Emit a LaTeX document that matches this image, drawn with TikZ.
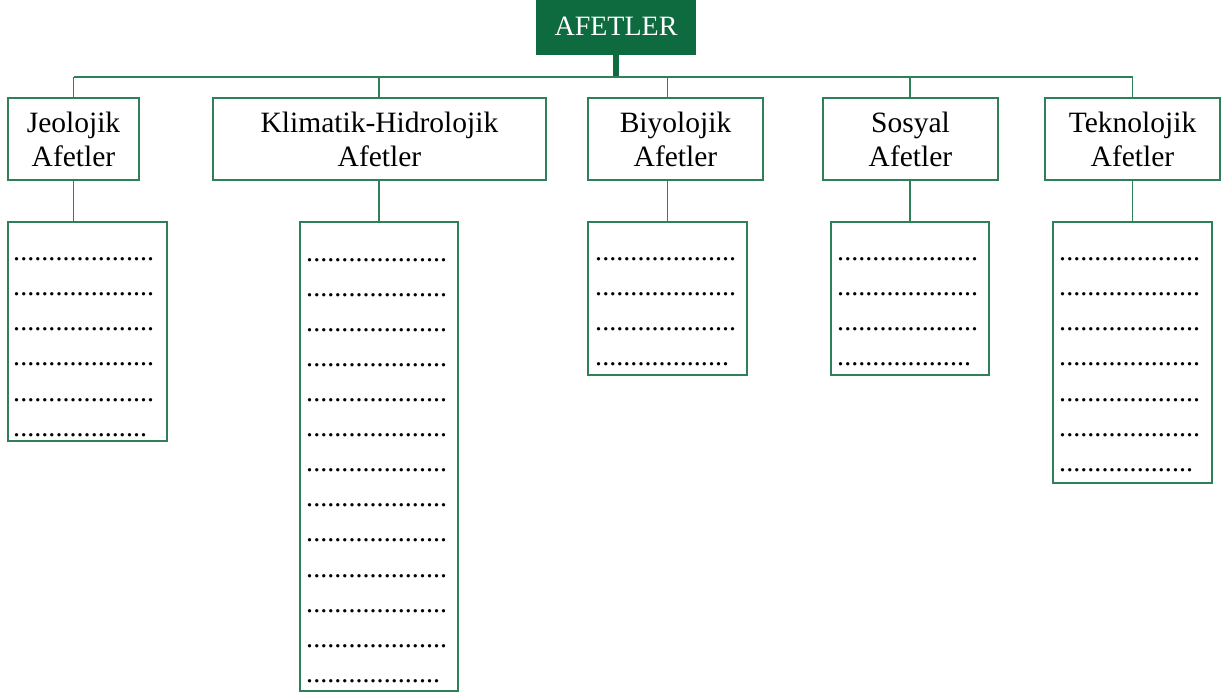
\documentclass[tikz,border=0pt]{standalone}
\usepackage{fontspec}
\setmainfont{Liberation Serif}
\definecolor{afgreen}{HTML}{0E6B3F}
\definecolor{lineg}{HTML}{2E8058}
\newcommand{\dotline}[1]{\hbox to #1\dimexpr 7.05pt\relax{\leaders\hbox to 7.05pt{\hss.\hss}\hfill}}
\begin{document}
\begin{tikzpicture}[x=1pt,y=-1pt,
  conn/.style={draw=lineg,line width=1.4pt},
  hdr/.style={draw=lineg,line width=1.4pt,anchor=north west,inner sep=0pt,outer sep=0pt,
    align=center,font=\fontsize{29.5}{34}\selectfont},
  lst/.style={draw=lineg,line width=1.4pt,anchor=north west,inner sep=0pt,outer sep=0pt},
  dotrow/.style={anchor=base west,inner sep=0pt,font=\fontsize{28}{33}\selectfont}]
\useasboundingbox (0,0) rectangle (1223,692);
% root
\node[fill=afgreen,anchor=north west,minimum width=160,minimum height=57,inner sep=0pt,outer sep=0pt,
  text=white,font=\fontsize{28}{33}\selectfont] (root) at (536,-2) {AFETLER};
\coordinate (bus) at (616,77);
% headers
\node[hdr,minimum width=131,minimum height=82] (jeo) at (8,98) {Jeolojik\\Afetler};
\node[hdr,minimum width=333,minimum height=82] (kli) at (213,98) {Klimatik-Hidrolojik\\Afetler};
\node[hdr,minimum width=175,minimum height=82] (biy) at (588,98) {Biyolojik\\Afetler};
\node[hdr,minimum width=175,minimum height=82] (sos) at (823,98) {Sosyal\\Afetler};
\node[hdr,minimum width=175,minimum height=82] (tek) at (1045,98) {Teknolojik\\Afetler};
% list boxes
\node[lst,minimum width=159,minimum height=219] (jeoL) at (8,222) {};
\node[lst,minimum width=158,minimum height=469] (kliL) at (300,222) {};
\node[lst,minimum width=159,minimum height=153] (biyL) at (588,222) {};
\node[lst,minimum width=158,minimum height=153] (sosL) at (831,222) {};
\node[lst,minimum width=159,minimum height=261] (tekL) at (1053,222) {};
% connectors
\draw[draw=afgreen,line width=5.5pt] (root.south -| bus) -- (bus);
\draw[conn] (jeo.north |- bus) -- (tek.north |- bus);
\draw[conn] (jeo.north |- bus) -- (jeo.north);
\draw[conn] (kliL.north |- bus) -- (kliL.north |- kli.north);
\draw[conn] (biyL.north |- bus) -- (biyL.north |- biy.north);
\draw[conn] (sosL.north |- bus) -- (sosL.north |- sos.north);
\draw[conn] (tek.north |- bus) -- (tek.north);
\draw[conn] (jeo.south) -- (jeo.south |- jeoL.north);
\draw[conn] (kliL.north |- kli.south) -- (kliL.north);
\draw[conn] (biyL.north |- biy.south) -- (biyL.north);
\draw[conn] (sosL.north |- sos.south) -- (sosL.north);
\draw[conn] (tek.south) -- (tek.south |- tekL.north);
% dot rows
\foreach \i in {1,...,5} \node[dotrow] (jeoR\i) at (13,226+35*\i) {\dotline{20}};
\node[dotrow] (jeoR6) at (13,436) {\dotline{19}};
\foreach \i in {1,...,12} \node[dotrow] (kliR\i) at (306,226+35.1*\i) {\dotline{20}};
\node[dotrow] (kliR13) at (306,682) {\dotline{19}};
\foreach \i in {1,...,3} \node[dotrow] (biyR\i) at (595,226+35*\i) {\dotline{20}};
\node[dotrow] (biyR4) at (595,366) {\dotline{19}};
\foreach \i in {1,...,3} \node[dotrow] (sosR\i) at (837,226+35*\i) {\dotline{20}};
\node[dotrow] (sosR4) at (837,366) {\dotline{19}};
\foreach \i in {1,...,6} \node[dotrow] (tekR\i) at (1059,226+35*\i) {\dotline{20}};
\node[dotrow] (tekR7) at (1059,471) {\dotline{19}};
\end{tikzpicture}
\end{document}
